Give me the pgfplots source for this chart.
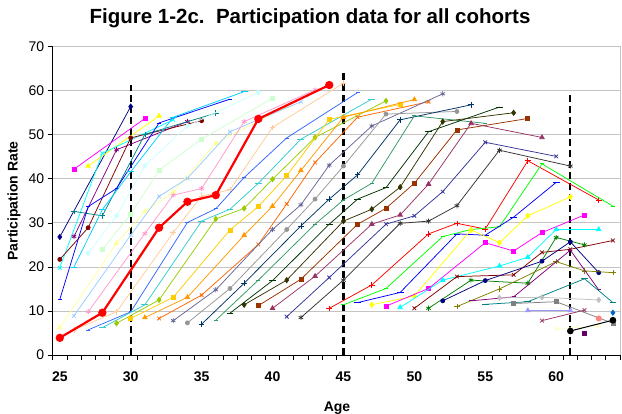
\documentclass[border=0pt]{standalone}
\usepackage{fontspec}
\setmainfont{Liberation Sans}
\usepackage{pgfplots}
\pgfplotsset{compat=1.18}

% series colours (one per birth cohort)
\definecolor{s01}{HTML}{000080}\definecolor{s02}{HTML}{FF00FF}\definecolor{s03}{HTML}{FFFF00}
\definecolor{s04}{HTML}{00FFFF}\definecolor{s05}{HTML}{800080}\definecolor{s06}{HTML}{800000}
\definecolor{s07}{HTML}{008080}\definecolor{s08}{HTML}{0000FF}\definecolor{s09}{HTML}{00CCFF}
\definecolor{s10}{HTML}{CCFFFF}\definecolor{s11}{HTML}{CCFFCC}\definecolor{s12}{HTML}{FFFF99}
\definecolor{s13}{HTML}{99CCFF}\definecolor{s14}{HTML}{FF99CC}\definecolor{s15}{HTML}{FF0000}
\definecolor{s16}{HTML}{FFCC99}\definecolor{s17}{HTML}{3366FF}\definecolor{s18}{HTML}{33CCCC}
\definecolor{s19}{HTML}{99CC00}\definecolor{s20}{HTML}{FFCC00}\definecolor{s21}{HTML}{FF9900}
\definecolor{s22}{HTML}{FF6600}\definecolor{s23}{HTML}{666699}\definecolor{s24}{HTML}{969696}
\definecolor{s25}{HTML}{003366}\definecolor{s26}{HTML}{339966}\definecolor{s27}{HTML}{003300}
\definecolor{s28}{HTML}{333300}\definecolor{s29}{HTML}{993300}\definecolor{s30}{HTML}{993366}
\definecolor{s31}{HTML}{333399}\definecolor{s32}{HTML}{333333}\definecolor{s34}{HTML}{FF0000}
\definecolor{s35}{HTML}{00FF00}\definecolor{s36}{HTML}{0000FF}\definecolor{s37}{HTML}{FFFF00}
\definecolor{s38}{HTML}{FF00FF}\definecolor{s39}{HTML}{00FFFF}\definecolor{s40}{HTML}{800000}
\definecolor{s41}{HTML}{008000}\definecolor{s42}{HTML}{000080}\definecolor{s43}{HTML}{808000}
\definecolor{s44}{HTML}{800080}\definecolor{s45}{HTML}{008080}\definecolor{s46}{HTML}{C0C0C0}
\definecolor{s47}{HTML}{808080}\definecolor{s48}{HTML}{9999FF}\definecolor{s49}{HTML}{993366}
\definecolor{s50}{HTML}{FFFFCC}\definecolor{s51}{HTML}{000000}\definecolor{s52}{HTML}{660066}
\definecolor{s53}{HTML}{FF8080}\definecolor{s54}{HTML}{0066CC}
\definecolor{gridgray}{HTML}{C4C4C4}

\pgfplotsset{
  dia/.style={mark=diamond*, mark size=2.6pt},
  sq/.style={mark=square*, mark size=2pt},
  tri/.style={mark=triangle*, mark size=2.6pt},
  xx/.style={mark=x, mark size=2.6pt},
  st/.style={mark=asterisk, mark size=2.6pt},
  ci/.style={mark=*, mark size=2pt},
  pl/.style={mark=+, mark size=2.8pt},
  sd/.style={mark=-, mark size=2pt},
  ld/.style={mark=-, mark size=3.4pt},
}

\begin{document}
\begin{tikzpicture}[x=1pt,y=1pt]
\useasboundingbox (0,0) rectangle (622,413);
\node[font=\bfseries\fontsize{20.5}{24}\selectfont] at (310,395) {Figure 1-2c.\ \ Participation data for all cohorts};
\node[font=\bfseries\fontsize{14}{16}\selectfont, rotate=90] at (14,212) {Participation Rate};
\node[font=\bfseries\fontsize{14}{16}\selectfont, anchor=north] at (337,15) {Age};
\begin{axis}[
  at={(52.7pt,58pt)}, anchor=south west, scale only axis,
  width=567.3pt, height=308.3pt,
  xmin=24.5, xmax=64.5, ymin=0, ymax=70,
  axis line style={draw=none},
  clip mode=individual,
  ytick={0,10,...,70}, ytick pos=left,
  xtick={25,30,...,60}, xtick pos=bottom,
  minor xtick={24.5,25.5,...,64.5},
  tick align=outside,
  major tick length=5pt, minor tick length=5pt,
  every major x tick/.style={draw=none},
  every minor x tick/.style={black, line width=0.7pt},
  every major y tick/.style={black, line width=0.7pt},
  ymajorgrids, grid style={gridgray, line width=0.8pt},
  /pgf/number format/assume math mode=true,
  yticklabel style={font=\fontsize{14}{16}\selectfont},
  xticklabel style={font=\bfseries\fontsize{14}{16}\selectfont, yshift=-8pt},
  every axis plot/.append style={line width=0.75pt, mark options={solid}},
]
% reference ages
\addplot[black, line width=2.2pt, dash pattern=on 7pt off 4pt, mark=none] coordinates {(30,0) (30,61.3)};
\addplot[black, line width=2.2pt, dash pattern=on 7pt off 4pt, mark=none] coordinates {(45,0) (45,64.7)};
\addplot[black, line width=2.2pt, dash pattern=on 7pt off 4pt, mark=none] coordinates {(61,0) (61,59.3)};

% cohorts, by age at first interview
\addplot[s01, dia] coordinates {(25,26.8)(30,56.4)};
\addplot[s02, sq]  coordinates {(26,42.2)(31,53.7)};
\addplot[s03, tri] coordinates {(27,42.9)(32,54.3)};
\addplot[s04, xx]  coordinates {(25,19.8)(28,45.8)(33,53.4)};
\addplot[s05, st]  coordinates {(26,26.9)(29,46.6)(34,53.0)};
\addplot[s06, ci]  coordinates {(25,21.7)(27,28.9)(30,49.3)(35,53.2)};
\addplot[s07, pl]  coordinates {(26,32.6)(28,31.6)(31,50.1)(36,54.9)};
\addplot[s08, sd]  coordinates {(25,12.6)(27,33.7)(29,37.8)(32,52.7)(37,58.1)};
\addplot[s09, ld]  coordinates {(26,20.0)(28,33.0)(30,41.6)(33,54.0)(38,59.8)};
\addplot[s10, dia] coordinates {(27,23.1)(29,31.6)(31,43.0)(34,52.0)(39,59.6)};
\addplot[s11, sq]  coordinates {(28,24.0)(30,32.0)(32,42.0)(35,49.0)(40,58.3)};
\addplot[s12, tri] coordinates {(25,6.2)(29,25.4)(31,32.6)(33,37.0)(36,48.1)(41,56.4)};
\addplot[s13, xx]  coordinates {(26,8.9)(30,27.2)(32,36.0)(34,40.1)(37,50.7)(42,57.5)};
\addplot[s14, st]  coordinates {(27,9.8)(31,27.6)(33,36.3)(35,37.8)(38,53.0)(43,60.2)};
\addplot[s16, pl]  coordinates {(26,5.7)(29,9.8)(33,27.8)(35,36.1)(37,37.5)(40,51.7)(45,61.7)};
\addplot[s17, sd]  coordinates {(27,5.7)(30,9.8)(34,30.1)(36,33.2)(38,40.3)(41,49.3)(46,59.6)};
\addplot[s18, ld]  coordinates {(28,6.2)(31,11.4)(35,30.4)(37,33.1)(39,39.0)(42,49.0)(47,58.1)};
\addplot[s19, dia] coordinates {(29,7.2)(32,12.5)(36,30.9)(38,33.3)(40,39.9)(43,49.4)(48,57.7)};
\addplot[s20, sq]  coordinates {(30,8.3)(33,13.1)(37,28.4)(39,33.7)(41,40.7)(44,53.5)(49,56.9)};
\addplot[s21, tri] coordinates {(31,8.5)(34,13.1)(38,27.2)(40,33.8)(42,41.9)(45,54.0)(50,58.0)};
\addplot[s22, xx]  coordinates {(32,8.3)(35,13.6)(39,25.1)(41,34.3)(43,43.7)(46,54.0)(51,57.5)};
\addplot[s23, st]  coordinates {(33,7.8)(36,14.8)(40,28.5)(42,34.1)(44,43.1)(47,52.0)(52,59.3)};
\addplot[s24, ci]  coordinates {(34,7.3)(37,15.1)(41,28.5)(43,35.4)(45,42.9)(48,54.7)(53,55.3)};
\addplot[s25, pl]  coordinates {(35,7.0)(38,16.3)(42,29.3)(44,35.4)(46,40.9)(49,53.4)(54,56.8)};
\addplot[s26, sd]  coordinates {(36,7.9)(39,17.0)(43,29.7)(45,35.2)(47,39.0)(50,54.3)(55,52.6)};
\addplot[s27, ld]  coordinates {(37,9.5)(40,16.9)(44,29.7)(46,35.4)(48,38.0)(51,50.7)(56,56.3)};
\addplot[s28, dia] coordinates {(38,11.4)(41,17.0)(45,30.4)(47,33.1)(49,38.1)(52,53.0)(57,55.0)};
\addplot[s29, sq]  coordinates {(39,11.2)(42,17.2)(46,29.7)(48,33.3)(50,39.0)(53,51.1)(58,53.7)};
\addplot[s30, tri] coordinates {(40,10.6)(43,17.9)(47,29.7)(49,31.8)(51,38.8)(54,52.6)(59,49.4)};
\addplot[s31, xx]  coordinates {(41,8.7)(44,17.6)(48,29.7)(50,31.6)(52,37.1)(55,48.3)(60,45.1)};
\addplot[s32, st]  coordinates {(42,8.5)(45,17.0)(49,29.9)(51,30.4)(53,33.9)(56,46.5)(61,42.9)};
\addplot[s34, pl]  coordinates {(44,10.6)(47,15.9)(51,27.5)(53,29.9)(55,28.6)(58,44.1)(63,35.2)};
\addplot[s35, sd]  coordinates {(45,11.4)(48,15.1)(52,26.9)(54,28.5)(56,29.1)(59,43.4)(64,33.8)};
\addplot[s36, ld]  coordinates {(46,11.9)(49,14.2)(53,27.5)(55,27.2)(57,31.3)(60,39.2)};
\addplot[s37, dia] coordinates {(47,11.4)(50,13.4)(54,28.4)(56,25.5)(58,31.6)(61,35.9)};
\addplot[s38, sq]  coordinates {(48,11.1)(51,15.1)(55,25.5)(57,23.6)(59,27.8)(62,31.8)};
\addplot[s39, tri] coordinates {(49,10.8)(52,17.0)(56,20.2)(58,22.2)(60,28.5)(63,28.5)};
\addplot[s40, xx]  coordinates {(50,10.6)(53,17.8)(57,18.2)(59,23.3)(61,24.0)(64,26.0)};
\addplot[s41, st]  coordinates {(51,10.6)(54,17.0)(58,16.3)(60,26.7)(62,25.0)};
\addplot[s42, ci]  coordinates {(52,12.3)(55,16.9)(59,21.3)(61,25.7)(63,18.7)};
\addplot[s43, pl]  coordinates {(53,11.0)(56,15.0)(60,21.2)(62,19.1)(64,18.7)};
\addplot[s44, sd]  coordinates {(54,12.3)(57,13.2)(61,23.8)(63,14.8)};
\addplot[s45, ld]  coordinates {(55,11.5)(58,12.1)(62,17.3)(64,11.9)};
\addplot[s46, dia] coordinates {(56,13.0)(59,13.1)(63,12.5)};
\addplot[s47, sq]  coordinates {(57,11.7)(60,12.1)(64,7.2)};
\addplot[s48, tri] coordinates {(58,10.1)(61,10.1)};
\addplot[s49, xx]  coordinates {(59,7.8)(62,10.2)};
\addplot[s50, st]  coordinates {(60,6.0)(63,6.5)};
\addplot[s51, ci, line width=1pt, mark size=2.8pt] coordinates {(61,5.45)(64,7.9)};
\addplot[s52, sq]  coordinates {(62,4.9)};
\addplot[s53, ci, mark size=2.6pt]  coordinates {(63,8.3)};
\addplot[s54, dia] coordinates {(64,9.6)};
% highlighted cohort
\addplot[s15, line width=2.2pt, mark=*, mark size=3pt] coordinates {(25,3.9)(28,9.6)(32,28.9)(34,34.8)(36,36.3)(39,53.6)(44,61.3)};

% plot-area frame
\draw[gridgray, line width=1pt] (rel axis cs:0,1) -- (rel axis cs:1,1) -- (rel axis cs:1,0);
\draw[black, line width=0.8pt] (rel axis cs:0,1) -- (rel axis cs:0,0) -- (rel axis cs:1,0);
\end{axis}
\end{tikzpicture}
\end{document}
